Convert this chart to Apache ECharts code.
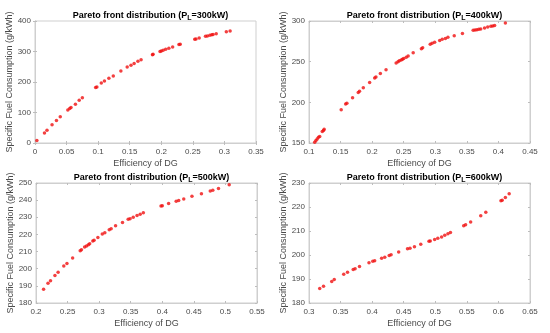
<!DOCTYPE html>
<html><head><meta charset="utf-8">
<script src="https://cdn.jsdelivr.net/npm/echarts@6/dist/echarts.min.js"></script>
<style>html,body{margin:0;padding:0;background:#fff}#c{width:550px;height:333px}</style>
</head><body><div id="c"></div>
<script>
// Panel loads (kW)
const loads = [300, 400, 500, 600];

// Panel 1: PL = 300 kW
const eff300 = [0.003,0.015,0.019,0.027,0.034,0.040,0.052,0.055,0.057,0.064,0.070,0.075,0.096,0.098,0.105,0.110,0.117,0.124,0.136,0.146,0.152,0.157,0.163,0.168,0.186,0.187,0.198,0.200,0.203,0.207,0.212,0.218,0.228,0.230,0.253,0.255,0.260,0.270,0.273,0.277,0.280,0.282,0.287,0.303,0.309];
const sfc300 = [8,33,42,60,74,86,108,113,116,127,140,148,182,184,197,203,212,220,236,249,255,261,268,273,289,291,300,302,304,307,311,315,323,324,340,341,344,350,351,353,355,356,358,365,367];

// Panel 2: PL = 400 kW
const eff400 = [0.109,0.111,0.113,0.115,0.117,0.121,0.123,0.124,0.151,0.158,0.160,0.169,0.178,0.180,0.186,0.196,0.204,0.206,0.213,0.222,0.238,0.241,0.243,0.246,0.248,0.250,0.254,0.257,0.265,0.278,0.280,0.292,0.295,0.299,0.307,0.311,0.316,0.320,0.330,0.343,0.360,0.363,0.366,0.369,0.372,0.378,0.383,0.388,0.391,0.394,0.411];
const sfc400 = [151,153,155,157,158,164,165.5,167,191,198,199,205.5,212,213.5,218,224.5,230,231,235.5,240,248.5,250,251,252,253,254,255.5,257,261,266,267,271.5,272.5,274,276,277.5,278.5,280,282,284.5,288.5,289,289.3,289.8,290.3,291.5,292.5,293.5,294,294.5,297.5];

// Panel 3: PL = 500 kW
const eff500 = [0.212,0.219,0.223,0.230,0.235,0.244,0.249,0.258,0.270,0.272,0.277,0.280,0.283,0.285,0.290,0.292,0.298,0.305,0.309,0.316,0.319,0.326,0.337,0.346,0.349,0.354,0.360,0.365,0.370,0.398,0.400,0.410,0.422,0.426,0.434,0.447,0.462,0.476,0.480,0.489,0.506];
const sfc500 = [188,191.5,193,196,198,201.6,203,206.3,210.5,211,212.6,213.2,214,214.6,216.2,216.6,218.2,220.2,221,222.7,223.3,225,227,228.8,229.2,230,231,231.8,232.6,236.6,236.7,238,239.4,239.8,240.7,242.2,243.8,245.3,245.8,246.8,249];

// Panel 4: PL = 600 kW
const eff600 = [0.317,0.323,0.336,0.340,0.355,0.361,0.370,0.373,0.380,0.395,0.401,0.404,0.415,0.420,0.427,0.430,0.442,0.456,0.460,0.467,0.477,0.490,0.492,0.499,0.504,0.510,0.515,0.520,0.524,0.545,0.548,0.556,0.572,0.580,0.604,0.606,0.611,0.617];
const sfc600 = [186,187,189,189.8,192,192.8,194,194.3,195.2,196.8,197.4,197.6,198.6,199.1,199.8,200.1,201.3,202.6,202.8,203.4,204.5,205.7,205.8,206.5,207,207.5,208.2,208.9,209.4,212.2,212.6,213.8,216.4,217.8,222.6,222.8,224,225.5];

// Axis ranges / tick steps
const xMin = [0, 0.1, 0.2, 0.3];
const xMax = [0.35, 0.45, 0.55, 0.65];
const xStep = [0.05, 0.05, 0.05, 0.05];
const yMin = [0, 150, 180, 180];
const yMax = [400, 300, 250, 230];
const yStep = [100, 50, 10, 10];

const effs = [eff300, eff400, eff500, eff600];
const sfcs = [sfc300, sfc400, sfc500, sfc600];

const xTitle = 'Efficiency of DG';
const yTitle = 'Specific Fuel Consumption (g/kWh)';

const gridPos = [
  {left: 35, top: 21, width: 221, height: 122},
  {left: 309, top: 21, width: 221, height: 122},
  {left: 36, top: 183, width: 221, height: 120},
  {left: 309, top: 183, width: 221, height: 120}
];

const FONT = 'Liberation Sans, Arial, sans-serif';
const boxColor = '#cfcfcf';
const labelColor = '#4a4a4a';
const fmt = v => String(+v.toFixed(2));

const grids = [], xAxes = [], yAxes = [], series = [], titles = [];
for (let i = 0; i < 4; i++) {
  const g = gridPos[i];
  grids.push(Object.assign({show: true, borderColor: boxColor, borderWidth: 1, backgroundColor: '#fff'}, g));
  const commonX = {gridIndex: i, type: 'value', min: xMin[i], max: xMax[i], interval: xStep[i],
    axisLine: {lineStyle: {color: boxColor}}, splitLine: {show: false},
    axisTick: {inside: true, length: 2, lineStyle: {color: '#bdbdbd'}}};
  const commonY = {gridIndex: i, type: 'value', min: yMin[i], max: yMax[i], interval: yStep[i],
    axisLine: {lineStyle: {color: boxColor}}, splitLine: {show: false},
    axisTick: {inside: true, length: 2, lineStyle: {color: '#bdbdbd'}}};
  xAxes.push(Object.assign({}, commonX, {position: 'bottom',
    axisLabel: {color: labelColor, fontSize: 8, fontFamily: FONT, margin: 5, formatter: fmt},
    name: xTitle, nameLocation: 'middle', nameGap: 16,
    nameTextStyle: {color: labelColor, fontSize: 9, fontFamily: FONT}}));
  xAxes.push(Object.assign({}, commonX, {position: 'top', axisLabel: {show: false}}));
  yAxes.push(Object.assign({}, commonY, {position: 'left',
    axisLabel: {color: labelColor, fontSize: 8, fontFamily: FONT, margin: 4},
    name: yTitle, nameLocation: 'middle', nameGap: 21,
    nameTextStyle: {color: labelColor, fontSize: 9, fontFamily: FONT}}));
  yAxes.push(Object.assign({}, commonY, {position: 'right', axisLabel: {show: false}}));
  series.push({type: 'scatter', xAxisIndex: 2 * i, yAxisIndex: 2 * i,
    data: effs[i].map((x, k) => [x, sfcs[i][k]]),
    symbol: 'circle', symbolSize: 3.5, itemStyle: {color: '#f01010'}, silent: true});
  titles.push({
    text: '{b|Pareto front distribution (P}{s|L}{b|=' + loads[i] + 'kW)}',
    left: g.left + g.width / 2, top: g.top - 16, textAlign: 'center',
    textStyle: {rich: {
      b: {fontSize: 9, fontWeight: 'bold', color: '#000', fontFamily: FONT},
      s: {fontSize: 7, fontWeight: 'bold', color: '#000', fontFamily: FONT, padding: [5, 0, 0, 0]}
    }}
  });
}

const chart = echarts.init(document.getElementById('c'), null, {renderer: 'canvas'});
chart.setOption({
  backgroundColor: '#fff', animation: false,
  title: titles, grid: grids, xAxis: xAxes, yAxis: yAxes, series: series
});
</script></body></html>
